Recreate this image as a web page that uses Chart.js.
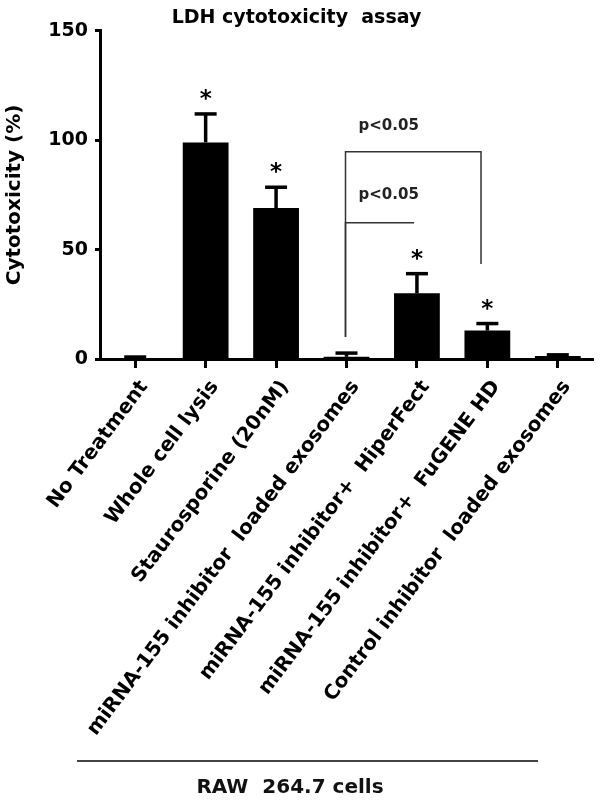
<!DOCTYPE html>
<html>
<head>
<meta charset="utf-8">
<script src="https://cdn.jsdelivr.net/npm/chart.js@4.4.1/dist/chart.umd.min.js"></script>
<style>
html,body{margin:0;padding:0;background:#fff;}
#wrap{width:604px;height:802px;position:relative;}
</style>
</head>
<body>
<div id="wrap"><canvas id="c" width="604" height="802"></canvas></div>
<script>
// ---- data ----
const categories = [
  'No Treatment',
  'Whole cell lysis',
  'Staurosporine (20nM)',
  'miRNA-155 inhibitor  loaded exosomes',
  'miRNA-155 inhibitor+  HiperFect',
  'miRNA-155 inhibitor+  FuGENE HD',
  'Control inhibitor  loaded exosomes'
];
const means  = [0.3, 99, 69, 1, 30, 13, 1.4];
const errors = [0.6, 13, 9.5, 1.7, 9, 3.2, 0.5];
const marks  = ['', '*', '*', '', '*', '*', ''];
const yMin = 0, yMax = 150, yStep = 50;
const chartTitle = 'LDH cytotoxicity  assay';
const yTitle = 'Cytotoxicity (%)';
const groupLabel = 'RAW  264.7 cells';
// comparison brackets: category positions and y levels in data units
const cmpFrom   = [3, 3];
const cmpTo     = [4.91, 3.96];
const cmpLevel  = [94.7, 62.3];
const cmpDrop   = [43.4, null];
const cmpBase   = [10, 10];
const cmpText   = ['p<0.05', 'p<0.05'];
const cmpTextAt = [104.7, 73.2];

const FONT = "'DejaVu Sans', 'Liberation Sans', Arial, sans-serif";

const annot = {
  id: 'annot',
  afterDatasetsDraw(chart) {
    const {ctx, scales: {x, y}} = chart;
    const meta = chart.getDatasetMeta(0);
    ctx.save();
    // error bars (upper only)
    ctx.strokeStyle = '#000';
    ctx.lineWidth = 3.5;
    meta.data.forEach((bar, i) => {
      const cx = bar.x;
      const base = y.getPixelForValue(means[i]);
      const top = y.getPixelForValue(means[i] + errors[i]);
      ctx.beginPath(); ctx.moveTo(cx, base); ctx.lineTo(cx, top); ctx.stroke();
      ctx.beginPath(); ctx.moveTo(cx - 11, top); ctx.lineTo(cx + 11, top); ctx.stroke();
      if (marks[i]) {
        ctx.fillStyle = '#000';
        ctx.font = 'bold 23px ' + FONT;
        ctx.textAlign = 'center';
        ctx.textBaseline = 'alphabetic';
        ctx.fillText(marks[i], cx, top - 20 + 0.53 * 23);
      }
    });
    // comparison brackets
    ctx.strokeStyle = '#333';
    ctx.lineWidth = 1.5;
    for (let k = 0; k < cmpFrom.length; k++) {
      const x0 = x.getPixelForValue(cmpFrom[k]) - 1;
      const x1 = x.getPixelForValue(cmpTo[k]);
      const yl = y.getPixelForValue(cmpLevel[k]);
      ctx.beginPath();
      ctx.moveTo(x0, y.getPixelForValue(cmpBase[k]));
      ctx.lineTo(x0, yl);
      ctx.lineTo(x1, yl);
      if (cmpDrop[k] !== null) ctx.lineTo(x1, y.getPixelForValue(cmpDrop[k]));
      ctx.stroke();
      ctx.fillStyle = '#222';
      ctx.font = 'bold 15px ' + FONT;
      ctx.textAlign = 'left';
      ctx.textBaseline = 'alphabetic';
      ctx.fillText(cmpText[k], x0 + 13, y.getPixelForValue(cmpTextAt[k]));
    }
    ctx.restore();
  },
  afterDraw(chart) {
    const {ctx} = chart;
    ctx.save();
    ctx.strokeStyle = '#444';
    ctx.lineWidth = 2;
    ctx.beginPath(); ctx.moveTo(77, 761); ctx.lineTo(538, 761); ctx.stroke();
    ctx.fillStyle = '#111';
    ctx.font = 'bold 20px ' + FONT;
    ctx.textAlign = 'center';
    ctx.textBaseline = 'alphabetic';
    ctx.fillText(groupLabel, 290, 793);
    ctx.restore();
  }
};

new Chart(document.getElementById('c'), {
  type: 'bar',
  data: {
    labels: categories,
    datasets: [{
      data: means,
      backgroundColor: '#000',
      borderWidth: 0,
      barPercentage: 0.65,
      categoryPercentage: 1
    }]
  },
  options: {
    responsive: false,
    animation: false,
    devicePixelRatio: 1,
    layout: {padding: {left: 0, right: 11, top: 0, bottom: 0}},
    plugins: {
      legend: {display: false},
      tooltip: {enabled: false},
      title: {
        display: true,
        text: chartTitle,
        color: '#000',
        font: {family: FONT, size: 19, weight: 'bold'},
        padding: {top: 7, bottom: 1}
      }
    },
    scales: {
      x: {
        offset: true,
        grid: {display: true, offset: false, drawOnChartArea: false, drawTicks: true, tickLength: 9, tickWidth: 3, tickColor: '#000'},
        border: {display: true, width: 3, color: '#000'},
        ticks: {
          autoSkip: false, maxRotation: 53, minRotation: 53,
          labelOffset: 9, padding: 8, color: '#000',
          font: {family: FONT, size: 20, weight: 'bold'}
        },
        afterFit(s) { s.height = 443; }
      },
      y: {
        min: yMin, max: yMax,
        ticks: {stepSize: yStep, padding: 7, color: '#000', font: {family: FONT, size: 19, weight: 'bold'}},
        grid: {drawOnChartArea: false, drawTicks: true, tickLength: 5, tickWidth: 3, tickColor: '#000'},
        border: {display: true, width: 3, color: '#000'},
        title: {
          display: true, text: yTitle, color: '#000',
          font: {family: FONT, size: 20, weight: 'bold'},
          padding: {top: 3, bottom: 0}
        },
        afterFit(s) { s.width = 100; }
      }
    }
  },
  plugins: [annot]
});
</script>
</body>
</html>
